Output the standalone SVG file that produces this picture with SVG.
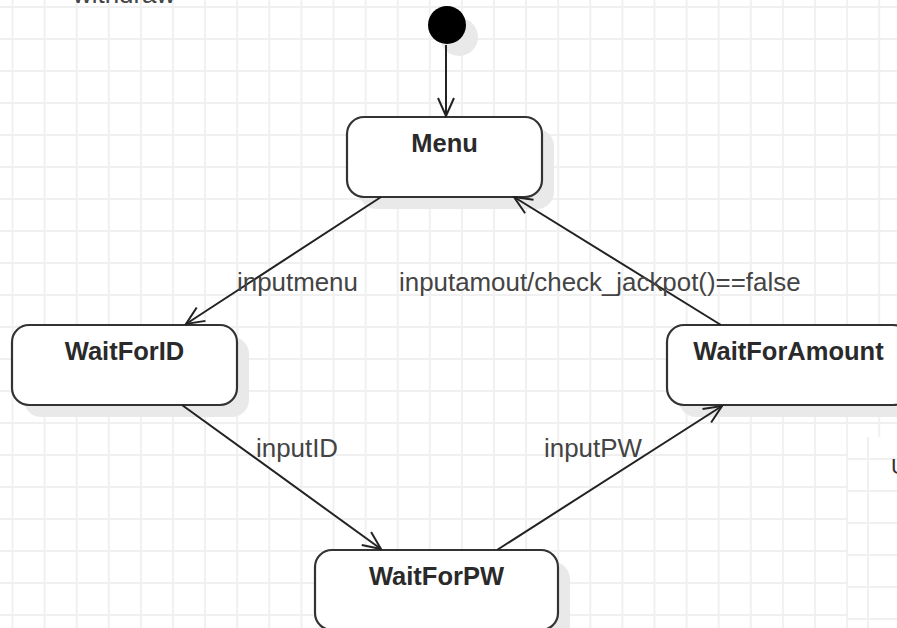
<svg xmlns="http://www.w3.org/2000/svg" width="897" height="628" viewBox="0 0 897 628">
<defs>
<pattern id="grid" patternUnits="userSpaceOnUse" x="11.5" y="6" width="32.1" height="32">
<rect x="0" y="0" width="32.1" height="32" fill="#ffffff"/>
<rect x="0" y="0" width="2" height="32" fill="#f0f0f0"/>
<rect x="0" y="0" width="32.1" height="2" fill="#f0f0f0"/>
</pattern>
<pattern id="grid2" patternUnits="userSpaceOnUse" x="867" y="458" width="32" height="32">
<rect x="0" y="0" width="32" height="32" fill="#ffffff"/>
<rect x="0" y="0" width="2" height="32" fill="#f0f0f0"/>
<rect x="0" y="0" width="32" height="2" fill="#f0f0f0"/>
</pattern>
<marker id="open" viewBox="-20 -10 22 20" refX="0" refY="0" markerWidth="22" markerHeight="20" markerUnits="userSpaceOnUse" orient="auto">
<path d="M -18 -8 L 0 0 L -18 8" fill="none" stroke="#222" stroke-width="2"/>
</marker>
</defs>
<style>
.node { fill: #ffffff; stroke: #333333; stroke-width: 2.2; }
.shadow { fill: #e9e9e9; stroke: none; }
.nlabel { font-family: "Liberation Sans", Arial, sans-serif; font-size: 25.5px; font-weight: bold; fill: #2a2a2a; text-anchor: middle; }
.elabel { font-family: "Liberation Sans", Arial, sans-serif; font-size: 25.9px; fill: #444444; }
.edge { fill: none; stroke: #222222; stroke-width: 2; marker-end: url(#open); }
</style>
<rect x="0" y="0" width="897" height="628" fill="url(#grid)"/>
<rect x="848" y="437" width="49" height="191" fill="url(#grid2)"/>
<text x="73" y="3" class="elabel" fill="#333">withdraw</text>
<text x="891" y="474" font-family="Liberation Sans, Arial, sans-serif" font-size="22" fill="#333">U</text>

<g id="initial">
<circle cx="459" cy="37" r="19" class="shadow"/>
<circle cx="447" cy="25" r="19" fill="#000000"/>
</g>

<g id="menu">
<rect x="359" y="129" width="195" height="80" rx="17" class="shadow"/>
<rect x="347" y="117" width="195" height="80" rx="17" class="node"/>
<text x="444.5" y="152" class="nlabel">Menu</text>
</g>

<g id="waitforid">
<rect x="24" y="337" width="225" height="80" rx="17" class="shadow"/>
<rect x="12" y="325" width="225" height="80" rx="17" class="node"/>
<text x="124.5" y="360" class="nlabel">WaitForID</text>
</g>

<g id="waitforamount">
<rect x="679" y="337" width="243" height="80" rx="17" class="shadow"/>
<rect x="667" y="325" width="243" height="80" rx="17" class="node"/>
<text x="788.5" y="360" class="nlabel">WaitForAmount</text>
</g>

<g id="waitforpw">
<rect x="327" y="562" width="243" height="80" rx="17" class="shadow"/>
<rect x="315" y="550" width="243" height="80" rx="17" class="node"/>
<text x="436.5" y="585" class="nlabel">WaitForPW</text>
</g>

<g id="connectors">
<path d="M446 45 L446 116" class="edge"/>
<path d="M381 197 L186 324" class="edge"/>
<path d="M721 325 L514 197" class="edge"/>
<path d="M182 405 L381 549" class="edge"/>
<path d="M497 550 L722 406" class="edge"/>
<text x="237" y="291" class="elabel">inputmenu</text>
<text x="399" y="291" class="elabel">inputamout/check_jackpot()==false</text>
<text x="256" y="457" class="elabel">inputID</text>
<text x="544" y="457" class="elabel">inputPW</text>
</g>
</svg>
